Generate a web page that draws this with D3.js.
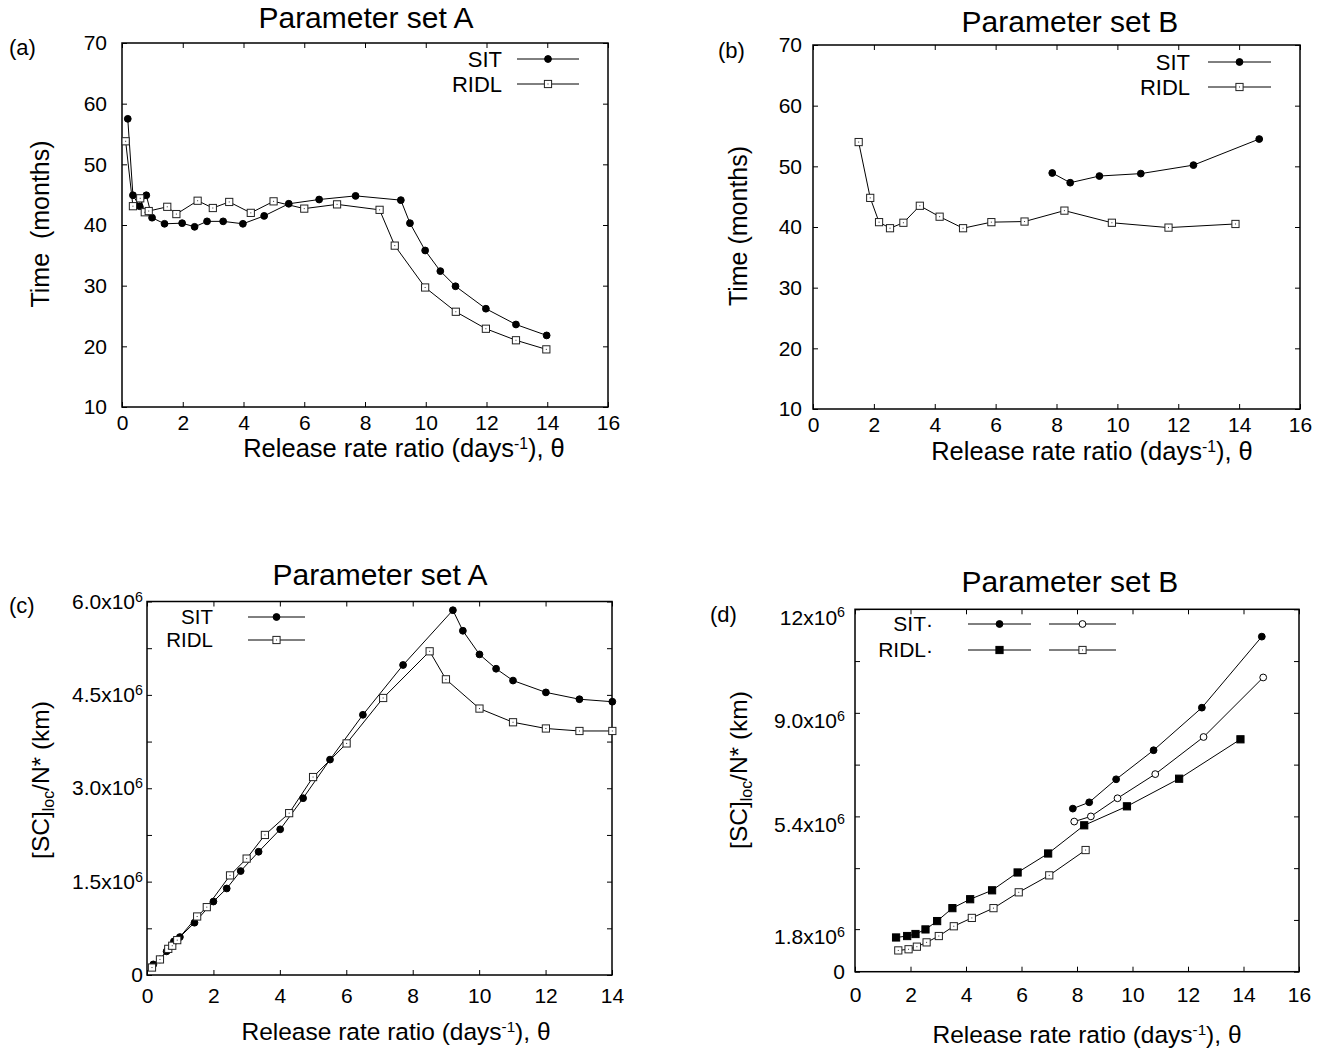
<!DOCTYPE html>
<html>
<head>
<meta charset="utf-8">
<script src="https://cdn.jsdelivr.net/npm/d3@7"></script>
<style>
  body { margin: 0; background: #fff; }
  svg { font-family: "Liberation Sans", Arial, Helvetica, sans-serif; }
  .frame { fill: none; stroke: #000; stroke-width: 1.5; }
  .domain { display: none; }
  .tick line { stroke: #000; stroke-width: 1; }
  .series { fill: none; stroke: #000; stroke-width: 1; }
</style>
</head>
<body>
<svg id="fig" width="1341" height="1053"></svg>
<script>
// ---- data ----
// (a) parameter set A, time
const A_SIT_X  = [0.19, 0.36, 0.58, 0.8, 0.99, 1.4, 1.98, 2.39, 2.8, 3.33, 3.98, 4.68, 5.49, 6.49, 7.69, 9.18, 9.48, 9.98, 10.48, 10.98, 11.98, 12.97, 13.98];
const A_SIT_Y  = [57.5, 44.9, 43.1, 44.9, 41.2, 40.2, 40.3, 39.7, 40.6, 40.6, 40.2, 41.5, 43.5, 44.2, 44.8, 44.1, 40.3, 35.8, 32.4, 29.9, 26.2, 23.6, 21.8];
const A_RIDL_X = [0.12, 0.36, 0.6, 0.75, 0.88, 1.49, 1.79, 2.49, 2.99, 3.53, 4.24, 4.99, 6.0, 7.08, 8.48, 8.98, 9.98, 10.99, 11.98, 12.97, 13.97];
const A_RIDL_Y = [53.8, 43.1, 44.4, 42.1, 42.3, 43.0, 41.8, 44.0, 42.8, 43.8, 42.0, 43.9, 42.7, 43.4, 42.5, 36.6, 29.7, 25.7, 22.9, 21.0, 19.5];

// (b) parameter set B, time
const B_SIT_X  = [7.86, 8.45, 9.41, 10.77, 12.5, 14.66];
const B_SIT_Y  = [48.9, 47.3, 48.4, 48.8, 50.2, 54.5];
const B_RIDL_X = [1.5, 1.88, 2.17, 2.53, 2.97, 3.51, 4.16, 4.93, 5.86, 6.95, 8.26, 9.82, 11.68, 13.88];
const B_RIDL_Y = [54.0, 44.8, 40.8, 39.8, 40.7, 43.5, 41.7, 39.8, 40.8, 40.9, 42.7, 40.7, 39.9, 40.5];

// (c) parameter set A, [SC]loc/N*
const C_SIT_X  = [0.19, 0.39, 0.59, 0.81, 0.99, 1.43, 2.0, 2.4, 2.82, 3.36, 4.01, 4.7, 5.51, 6.5, 7.71, 9.21, 9.51, 10.01, 10.51, 11.02, 12.01, 13.02, 14.01];
const C_SIT_Y  = [0.17, 0.25, 0.38, 0.54, 0.61, 0.84, 1.18, 1.39, 1.67, 1.98, 2.34, 2.84, 3.46, 4.18, 4.98, 5.86, 5.53, 5.15, 4.92, 4.73, 4.54, 4.43, 4.39].map(v => v * 1e6);
const C_RIDL_X = [0.15, 0.39, 0.64, 0.76, 0.91, 1.51, 1.8, 2.5, 3.0, 3.55, 4.28, 5.0, 6.01, 7.11, 8.51, 9.0, 10.01, 11.02, 12.01, 13.02, 14.01];
const C_RIDL_Y = [0.12, 0.25, 0.42, 0.47, 0.56, 0.94, 1.09, 1.6, 1.87, 2.25, 2.6, 3.18, 3.72, 4.45, 5.2, 4.75, 4.28, 4.06, 3.96, 3.92, 3.92].map(v => v * 1e6);

// (d) parameter set B, [SC]loc/N*
const D_SIT1_X  = [7.85, 8.44, 9.41, 10.76, 12.5, 14.66];
const D_SIT1_Y  = [5.67, 5.89, 6.69, 7.70, 9.18, 11.65].map(v => v * 1e6);
const D_SIT2_X  = [7.9, 8.5, 9.46, 10.82, 12.56, 14.71];
const D_SIT2_Y  = [5.22, 5.40, 6.03, 6.87, 8.16, 10.23].map(v => v * 1e6);
const D_RIDL1_X = [1.48, 1.88, 2.18, 2.54, 2.96, 3.51, 4.15, 4.94, 5.86, 6.96, 8.26, 9.8, 11.68, 13.89];
const D_RIDL1_Y = [1.19, 1.24, 1.31, 1.47, 1.76, 2.21, 2.52, 2.83, 3.45, 4.11, 5.09, 5.75, 6.71, 8.08].map(v => v * 1e6);
const D_RIDL2_X = [1.56, 1.93, 2.23, 2.58, 3.02, 3.56, 4.21, 4.99, 5.9, 7.0, 8.31];
const D_RIDL2_Y = [0.74, 0.78, 0.87, 1.02, 1.24, 1.58, 1.87, 2.21, 2.76, 3.35, 4.23].map(v => v * 1e6);

// ticks
const X_TICKS_16 = [0, 2, 4, 6, 8, 10, 12, 14, 16];
const X_TICKS_14 = [0, 2, 4, 6, 8, 10, 12, 14];
const TIME_TICKS = [10, 20, 30, 40, 50, 60, 70];
const C_Y_TICKS  = [0, 1.5e6, 3.0e6, 4.5e6, 6.0e6];
const C_Y_LABELS = [["0", ""], ["1.5x10", "6"], ["3.0x10", "6"], ["4.5x10", "6"], ["6.0x10", "6"]];
const C_Y_MINOR  = [0.75e6, 2.25e6, 3.75e6, 5.25e6];
// the labelled ticks of (d) sit where the picture puts them (the lowest one is not on the 1.8e6 grid)
const D_Y_TICKS  = [0, 1.48e6, 5.4e6, 9.0e6, 12.6e6];
const D_Y_LABELS = [["0", ""], ["1.8x10", "6"], ["5.4x10", "6"], ["9.0x10", "6"], ["12x10", "6"]];
const D_Y_MINOR  = [3.6e6, 7.2e6, 10.8e6];
const D_Y_RIGHT  = [0, 1.8e6, 3.6e6, 5.4e6, 7.2e6, 9.0e6, 10.8e6, 12.6e6];

const XLABEL = "Release rate ratio (days";
const svg = d3.select('#fig');

function markCircle(g, cx, cy, filled) {
  g.append('circle').attr('cx', cx).attr('cy', cy).attr('r', 3.4)
    .attr('fill', filled ? '#000' : '#fff').attr('stroke', '#000').attr('stroke-width', 1);
}
function markSquare(g, cx, cy, filled) {
  g.append('rect').attr('x', cx - 3.6).attr('y', cy - 3.6).attr('width', 7.2).attr('height', 7.2)
    .attr('fill', filled ? '#000' : '#fff').attr('stroke', filled ? '#000' : '#222').attr('stroke-width', 1);
  if (!filled) g.append('rect').attr('x', cx - 0.5).attr('y', cy - 0.5).attr('width', 1).attr('height', 1).attr('fill', '#333');
}

function panel(cfg) {
  const g = svg.append('g');
  const x = d3.scaleLinear().domain(cfg.xDomain).range([cfg.left, cfg.right]);
  const y = d3.scaleLinear().domain(cfg.yDomain).range([cfg.bottom, cfg.top]);

  // bottom + top x ticks
  const xb = g.append('g').attr('transform', `translate(0,${cfg.bottom})`)
    .call(d3.axisBottom(x).tickValues(cfg.xTicks).tickSizeInner(-5).tickSizeOuter(0).tickPadding(cfg.xPad));
  xb.attr('font-family', null).attr('font-size', cfg.tickFont);
  xb.selectAll('text').attr('fill', '#000');
  g.append('g').attr('transform', `translate(0,${cfg.top})`)
    .call(d3.axisTop(x).tickValues(cfg.xTicks).tickSizeInner(-5).tickSizeOuter(0).tickFormat(''));

  // left + right y ticks
  const yl = g.append('g').attr('transform', `translate(${cfg.left},0)`)
    .call(d3.axisLeft(y).tickValues(cfg.yTicks).tickSizeInner(-5).tickSizeOuter(0).tickPadding(cfg.yPad));
  yl.attr('font-family', null).attr('font-size', cfg.tickFont);
  if (cfg.yLabels) {
    yl.selectAll('.tick text').each(function(d, i) {
      const sup = cfg.yLabels[i][1];
      const t = d3.select(this).text(null).attr('fill', '#000').attr('dy', sup ? (cfg.yDy || '0.32em') : '0.32em');
      t.append('tspan').text(cfg.yLabels[i][0]);
      if (sup) t.append('tspan').attr('dy', '-0.5em').attr('font-size', '0.68em').text(sup);
    });
  } else {
    yl.selectAll('text').attr('fill', '#000');
  }
  if (cfg.yMinor) {
    g.append('g').attr('transform', `translate(${cfg.left},0)`)
      .call(d3.axisLeft(y).tickValues(cfg.yMinor).tickSizeInner(-5).tickSizeOuter(0).tickFormat(''));
  }
  const rightTicks = cfg.yRight || cfg.yTicks.concat(cfg.yMinor || []);
  g.append('g').attr('transform', `translate(${cfg.right},0)`)
    .call(d3.axisRight(y).tickValues(rightTicks).tickSizeInner(-5).tickSizeOuter(0).tickFormat(''));

  g.append('rect').attr('class', 'frame')
    .attr('x', cfg.left).attr('y', cfg.top)
    .attr('width', cfg.right - cfg.left).attr('height', cfg.bottom - cfg.top);

  // series
  const line = d3.line().x(d => x(d[0])).y(d => y(d[1]));
  cfg.series.forEach(s => {
    const pts = s.xs.map((v, i) => [v, s.ys[i]]);
    g.append('path').attr('class', 'series').attr('d', line(pts));
    const mg = g.append('g');
    pts.forEach(p => (s.shape === 'circle' ? markCircle : markSquare)(mg, x(p[0]), y(p[1]), s.filled));
  });

  // legend
  cfg.legend.forEach(l => {
    g.append('text').attr('x', l.tx).attr('y', l.y).attr('dy', '0.35em')
      .attr('text-anchor', 'end').attr('font-size', cfg.legendFont).text(l.label);
    l.keys.forEach(k => {
      g.append('line').attr('x1', k.x1).attr('x2', k.x2).attr('y1', l.y).attr('y2', l.y)
        .attr('stroke', '#000').attr('stroke-width', 1);
      (k.shape === 'circle' ? markCircle : markSquare)(g, (k.x1 + k.x2) / 2, l.y, k.filled);
    });
  });

  // titles and labels
  g.append('text').attr('x', cfg.titleX).attr('y', cfg.titleY).attr('text-anchor', 'middle')
    .attr('font-size', 30).text(cfg.title);
  g.append('text').attr('x', cfg.letterX).attr('y', cfg.letterY).attr('font-size', 22).text(cfg.letter);

  const xt = g.append('text').attr('x', cfg.xLabelX).attr('y', cfg.xLabelY).attr('text-anchor', 'middle')
    .attr('font-size', cfg.labelFont);
  xt.append('tspan').text(XLABEL);
  xt.append('tspan').attr('dy', '-0.5em').attr('font-size', '0.62em').text('-1');
  xt.append('tspan').attr('dy', '0.31em').text('), θ');

  const ytxt = g.append('text')
    .attr('transform', `translate(${cfg.yLabelX},${cfg.yLabelY}) rotate(-90)`)
    .attr('text-anchor', 'middle').attr('font-size', cfg.yLabelFont);
  if (cfg.yTitleSub) {
    ytxt.append('tspan').text('[SC]');
    ytxt.append('tspan').attr('dy', '0.3em').attr('font-size', '0.65em').text('loc');
    ytxt.append('tspan').attr('dy', '-0.195em').text('/N* (km)');
  } else {
    ytxt.attr('xml:space', 'preserve').style('white-space', 'pre').text(cfg.yTitle);
  }
}

panel({
  left: 122, right: 608, top: 43, bottom: 407,
  xDomain: [0, 16], yDomain: [10, 70], xTicks: X_TICKS_16, yTicks: TIME_TICKS, xPad: 8, yPad: 15,
  tickFont: 21, labelFont: 25.5, yLabelFont: 25, legendFont: 22,
  series: [
    { xs: A_SIT_X, ys: A_SIT_Y, shape: 'circle', filled: true },
    { xs: A_RIDL_X, ys: A_RIDL_Y, shape: 'square', filled: false }
  ],
  legend: [
    { label: 'SIT', tx: 502, y: 59, keys: [{ x1: 517, x2: 579, shape: 'circle', filled: true }] },
    { label: 'RIDL', tx: 502, y: 84, keys: [{ x1: 517, x2: 579, shape: 'square', filled: false }] }
  ],
  title: 'Parameter set A', titleX: 366, titleY: 28, letter: '(a)', letterX: 9, letterY: 55,
  xLabelX: 404, xLabelY: 457, yLabelX: 49, yLabelY: 224, yTitle: 'Time  (months)'
});

panel({
  left: 813, right: 1300, top: 45, bottom: 409,
  xDomain: [0, 16], yDomain: [10, 70], xTicks: X_TICKS_16, yTicks: TIME_TICKS, xPad: 8, yPad: 11,
  tickFont: 21, labelFont: 25.5, yLabelFont: 25, legendFont: 22,
  series: [
    { xs: B_SIT_X, ys: B_SIT_Y, shape: 'circle', filled: true },
    { xs: B_RIDL_X, ys: B_RIDL_Y, shape: 'square', filled: false }
  ],
  legend: [
    { label: 'SIT', tx: 1190, y: 62, keys: [{ x1: 1208, x2: 1271, shape: 'circle', filled: true }] },
    { label: 'RIDL', tx: 1190, y: 87, keys: [{ x1: 1208, x2: 1271, shape: 'square', filled: false }] }
  ],
  title: 'Parameter set B', titleX: 1070, titleY: 32, letter: '(b)', letterX: 718, letterY: 58,
  xLabelX: 1092, xLabelY: 460, yLabelX: 747, yLabelY: 226, yTitle: 'Time (months)'
});

panel({
  left: 147, right: 612, top: 601.5, bottom: 975,
  xDomain: [0, 14], yDomain: [0, 6e6], xTicks: X_TICKS_14, yTicks: C_Y_TICKS, yMinor: C_Y_MINOR,
  yLabels: C_Y_LABELS, xPad: 13, yPad: 4,
  tickFont: 21, labelFont: 24.5, yLabelFont: 24.5, legendFont: 20.5,
  series: [
    { xs: C_SIT_X, ys: C_SIT_Y, shape: 'circle', filled: true },
    { xs: C_RIDL_X, ys: C_RIDL_Y, shape: 'square', filled: false }
  ],
  legend: [
    { label: 'SIT', tx: 213, y: 617, keys: [{ x1: 248, x2: 305, shape: 'circle', filled: true }] },
    { label: 'RIDL', tx: 213, y: 640, keys: [{ x1: 248, x2: 305, shape: 'square', filled: false }] }
  ],
  title: 'Parameter set A', titleX: 380, titleY: 585, letter: '(c)', letterX: 9, letterY: 613,
  xLabelX: 396, xLabelY: 1040, yLabelX: 49, yLabelY: 780, yTitleSub: true
});

panel({
  left: 855, right: 1299, top: 609.3, bottom: 971.7,
  xDomain: [0, 16], yDomain: [0, 12.6e6], xTicks: X_TICKS_16, yTicks: D_Y_TICKS, yMinor: D_Y_MINOR,
  yRight: D_Y_RIGHT, yLabels: D_Y_LABELS, xPad: 15, yPad: 10, yDy: '0.7em',
  tickFont: 21, labelFont: 24.5, yLabelFont: 24.5, legendFont: 21,
  series: [
    { xs: D_SIT1_X, ys: D_SIT1_Y, shape: 'circle', filled: true },
    { xs: D_SIT2_X, ys: D_SIT2_Y, shape: 'circle', filled: false },
    { xs: D_RIDL1_X, ys: D_RIDL1_Y, shape: 'square', filled: true },
    { xs: D_RIDL2_X, ys: D_RIDL2_Y, shape: 'square', filled: false }
  ],
  legend: [
    { label: 'SIT·', tx: 933, y: 624, keys: [
      { x1: 968, x2: 1031, shape: 'circle', filled: true },
      { x1: 1049, x2: 1116, shape: 'circle', filled: false }] },
    { label: 'RIDL·', tx: 933, y: 650, keys: [
      { x1: 968, x2: 1031, shape: 'square', filled: true },
      { x1: 1049, x2: 1116, shape: 'square', filled: false }] }
  ],
  title: 'Parameter set B', titleX: 1070, titleY: 592, letter: '(d)', letterX: 710, letterY: 622,
  xLabelX: 1087, xLabelY: 1043, yLabelX: 747, yLabelY: 770, yTitleSub: true
});
</script>
</body>
</html>
